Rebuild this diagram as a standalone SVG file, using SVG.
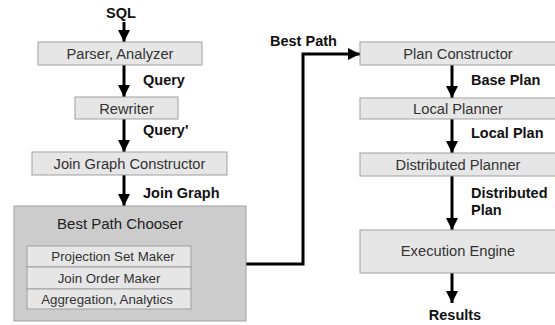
<svg xmlns="http://www.w3.org/2000/svg" width="555" height="325" viewBox="0 0 555 325">
<defs>
<style>
.box{fill:#e6e6e6;stroke:#a0a0a0;stroke-width:1}
.outer{fill:#cccccc;stroke:#a0a0a0;stroke-width:1}
.t{font-family:"Liberation Sans",Arial,sans-serif;font-size:14.7px;fill:#333;text-anchor:middle}
.s{font-size:13.3px}
.lb{font-family:"Liberation Sans",Arial,sans-serif;font-size:14.5px;font-weight:bold;fill:#111}
.ln{stroke:#000;stroke-width:3;fill:none}
.thin{stroke:#000;stroke-width:1.5;fill:none}
</style>
<marker id="ah" markerWidth="4" markerHeight="4" refX="4" refY="2" orient="auto" markerUnits="strokeWidth"><path d="M0,0 L4,2 L0,4 Z" fill="#000"/></marker>
<marker id="ahs" markerWidth="6" markerHeight="6" refX="6" refY="3" orient="auto" markerUnits="strokeWidth"><path d="M0,0 L6,3 L0,6 Z" fill="#000"/></marker>
</defs>
<rect width="555" height="325" fill="#fff"/>
<g id="connectors">
<line class="ln" x1="124" y1="22" x2="124" y2="42" marker-end="url(#ah)"/>
<line class="ln" x1="124" y1="65" x2="124" y2="97" marker-end="url(#ah)"/>
<line class="ln" x1="124" y1="119" x2="124" y2="152" marker-end="url(#ah)"/>
<line class="ln" x1="124" y1="175" x2="124" y2="206" marker-end="url(#ah)"/>
<line class="thin" x1="191" y1="277" x2="232" y2="277" marker-end="url(#ahs)"/>
<line class="thin" x1="191" y1="284" x2="232" y2="284" marker-end="url(#ahs)"/>
<line class="thin" x1="191" y1="291" x2="232" y2="291" marker-end="url(#ahs)"/>
<line class="thin" x1="191" y1="298" x2="232" y2="298" marker-end="url(#ahs)"/>
<polyline class="ln" points="246,264 303,264 303,54 360,54" marker-end="url(#ah)"/>
<line class="ln" x1="452" y1="65" x2="452" y2="98" marker-end="url(#ah)"/>
<line class="ln" x1="452" y1="119" x2="452" y2="153" marker-end="url(#ah)"/>
<line class="ln" x1="452" y1="176" x2="452" y2="230" marker-end="url(#ah)"/>
<line class="ln" x1="452" y1="273" x2="452" y2="303" marker-end="url(#ah)"/>
</g>
<g id="labels">
<text class="lb" x="121" y="18" text-anchor="middle">SQL</text>
<text class="lb" x="143" y="85">Query</text>
<text class="lb" x="143" y="135">Query'</text>
<text class="lb" x="143" y="198">Join Graph</text>
<text class="lb" x="197" y="267">Path</text>
<text class="lb" x="270" y="46">Best Path</text>
<text class="lb" x="471" y="85">Base Plan</text>
<text class="lb" x="471" y="138">Local Plan</text>
<text class="lb" x="471" y="198">Distributed</text>
<text class="lb" x="471" y="215">Plan</text>
<text class="lb" x="455" y="320" text-anchor="middle">Results</text>
</g>
<g id="parser"><rect class="box" x="38" y="42" width="164" height="23"/><text class="t" x="120" y="59">Parser, Analyzer</text></g>
<g id="rewriter"><rect class="box" x="75" y="97" width="103" height="22"/><text class="t" x="126.5" y="113.5">Rewriter</text></g>
<g id="joingraph"><rect class="box" x="32" y="152" width="195" height="23"/><text class="t" x="129.5" y="169">Join Graph Constructor</text></g>
<g id="chooser"><rect class="outer" x="14" y="206" width="232" height="115"/><text class="t" x="120" y="229" style="fill:#222;font-size:15px">Best Path Chooser</text></g>
<g id="projection"><rect class="box" x="27" y="246" width="164" height="21"/><text class="t s" x="113" y="261">Projection Set Maker</text></g>
<g id="joinorder"><rect class="box" x="27" y="267" width="164" height="22"/><text class="t s" x="109" y="283">Join Order Maker</text></g>
<g id="aggregation"><rect class="box" x="27" y="289" width="164" height="20"/><text class="t s" x="107" y="304">Aggregation, Analytics</text></g>
<g id="planconstructor"><rect class="box" x="360" y="42" width="200" height="23"/><text class="t" x="458" y="59">Plan Constructor</text></g>
<g id="localplanner"><rect class="box" x="360" y="98" width="200" height="21"/><text class="t" x="458" y="114">Local Planner</text></g>
<g id="distplanner"><rect class="box" x="360" y="153" width="200" height="23"/><text class="t" x="458" y="170">Distributed Planner</text></g>
<g id="execution"><rect class="box" x="360" y="230" width="200" height="43"/><text class="t" x="458" y="256">Execution Engine</text></g>
</svg>
